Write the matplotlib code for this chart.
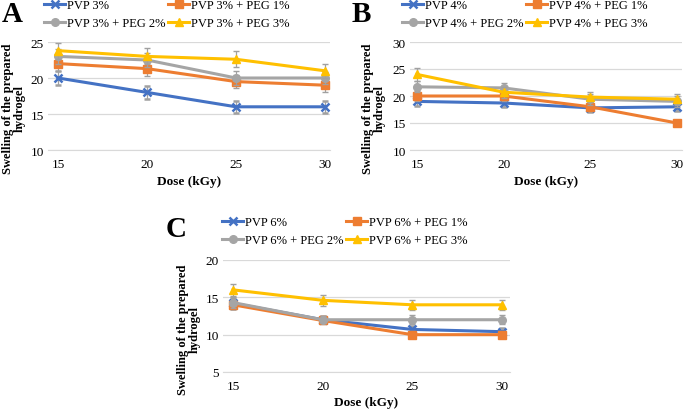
import matplotlib.pyplot as plt
from matplotlib.lines import Line2D

plt.rcParams["font.family"] = ["Liberation Serif", "DejaVu Serif"]

dose = [15, 20, 25, 30]

labels_a = ["PVP 3%", "PVP 3% + PEG 1%", "PVP 3% + PEG 2%", "PVP 3% + PEG 3%"]
vals_a = [
    [20.0, 18.0, 16.0, 16.0],
    [22.0, 21.3, 19.5, 19.0],
    [23.0, 22.5, 20.0, 20.0],
    [23.8, 23.0, 22.6, 21.0],
]
errs_a = [
    [1.0, 0.9, 0.8, 0.8],
    [1.0, 1.0, 0.9, 0.9],
    [1.0, 1.0, 1.0, 0.9],
    [1.1, 1.1, 1.1, 1.0],
]

labels_b = ["PVP 4%", "PVP 4% + PEG 1%", "PVP 4% + PEG 2%", "PVP 4% + PEG 3%"]
vals_b = [
    [19.0, 18.7, 17.8, 18.0],
    [20.0, 20.0, 18.0, 15.0],
    [21.7, 21.5, 19.4, 19.0],
    [24.0, 20.7, 19.8, 19.4],
]
errs_b = [
    [0.8, 0.8, 0.7, 0.7],
    [0.9, 0.9, 0.8, 0.6],
    [1.0, 1.0, 1.0, 1.0],
    [1.2, 1.0, 1.0, 1.0],
]

labels_c = ["PVP 6%", "PVP 6% + PEG 1%", "PVP 6% + PEG 2%", "PVP 6% + PEG 3%"]
vals_c = [
    [14.2, 12.0, 10.7, 10.4],
    [14.0, 11.9, 10.0, 10.0],
    [14.3, 12.0, 12.0, 12.0],
    [16.0, 14.6, 14.0, 14.0],
]
errs_c = [
    [0.7, 0.5, 0.5, 0.5],
    [0.6, 0.5, 0.5, 0.5],
    [0.7, 0.5, 0.6, 0.6],
    [0.8, 0.7, 0.7, 0.7],
]

colors = ["#4472C4", "#ED7D31", "#A5A5A5", "#FFC000"]
markers = ["x", "s", "o", "^"]

W, H = 685, 410


def panel(rect_px, letter, letter_xy, leg_xy, ylab_x, labels, vals, errs, ylim, yticks, xlim):
    x0, y0, x1, y1 = rect_px
    ax = fig.add_axes([x0 / W, (H - y1) / H, (x1 - x0) / W, (y1 - y0) / H])
    handles = []
    for i in range(4):
        mew = 1.8 if markers[i] == "x" else 1
        ax.errorbar(dose, vals[i], yerr=errs[i], color=colors[i], ecolor="#A0A0A0",
                    elinewidth=0.9, capsize=2, capthick=0.9, lw=2.2,
                    marker=markers[i], ms=5.5, mew=mew, zorder=3 + i)
        handles.append(Line2D([], [], color=colors[i], lw=2.2, marker=markers[i],
                              ms=5.5, mew=mew, label=labels[i]))
    ax.set_xlim(*xlim)
    ax.set_ylim(*ylim)
    ax.set_xticks(dose)
    ax.set_yticks(yticks)
    ax.tick_params(length=0, labelsize=9.5)
    ax.tick_params(axis="x", pad=6)
    ax.tick_params(axis="y", pad=3)
    ax.grid(True, axis="y", color="#D9D9D9", lw=0.9)
    for s in ["top", "right", "left"]:
        ax.spines[s].set_visible(False)
    ax.spines["bottom"].set_color("#D9D9D9")
    ax.set_xlabel("Dose (kGy)", fontsize=9.5, fontweight="bold", labelpad=3)
    ax.set_ylabel("Swelling of the prepared\nhydrogel", fontsize=9, fontweight="bold",
                  linespacing=0.95)
    ax.yaxis.set_label_coords((ylab_x - x0) / (x1 - x0), 0.39)
    # row-major order like the original legend
    order = [0, 2, 1, 3]
    ax.legend([handles[k] for k in order], [labels[k] for k in order],
              loc="upper left", bbox_to_anchor=(leg_xy[0] / W, (H - leg_xy[1]) / H),
              bbox_transform=fig.transFigure, ncol=2, frameon=False, fontsize=9,
              handlelength=1.7, handletextpad=0.15, columnspacing=0.2,
              labelspacing=0.5, borderaxespad=0, borderpad=0)
    fig.text(letter_xy[0] / W, (H - letter_xy[1]) / H, letter, fontsize=21,
             fontweight="bold", va="center")
    return ax


fig = plt.figure(figsize=(W / 100, H / 100), dpi=100)

panel((48, 43, 330, 151), "A", (2, 15), (44, 0), 26, labels_a, vals_a, errs_a,
      (10, 25), [10, 15, 20, 25], (14.44, 30.28))
panel((410, 43, 682, 151), "B", (352, 15), (402, 0), 386, labels_b, vals_b, errs_b,
      (10, 30), [10, 15, 20, 25, 30], (14.6, 30.29))
panel((223, 261, 510, 373), "C", (166, 230), (222, 217), 201, labels_c, vals_c, errs_c,
      (5, 20), [5, 10, 15, 20], (14.44, 30.45))

fig.savefig("out.png", dpi=100)
